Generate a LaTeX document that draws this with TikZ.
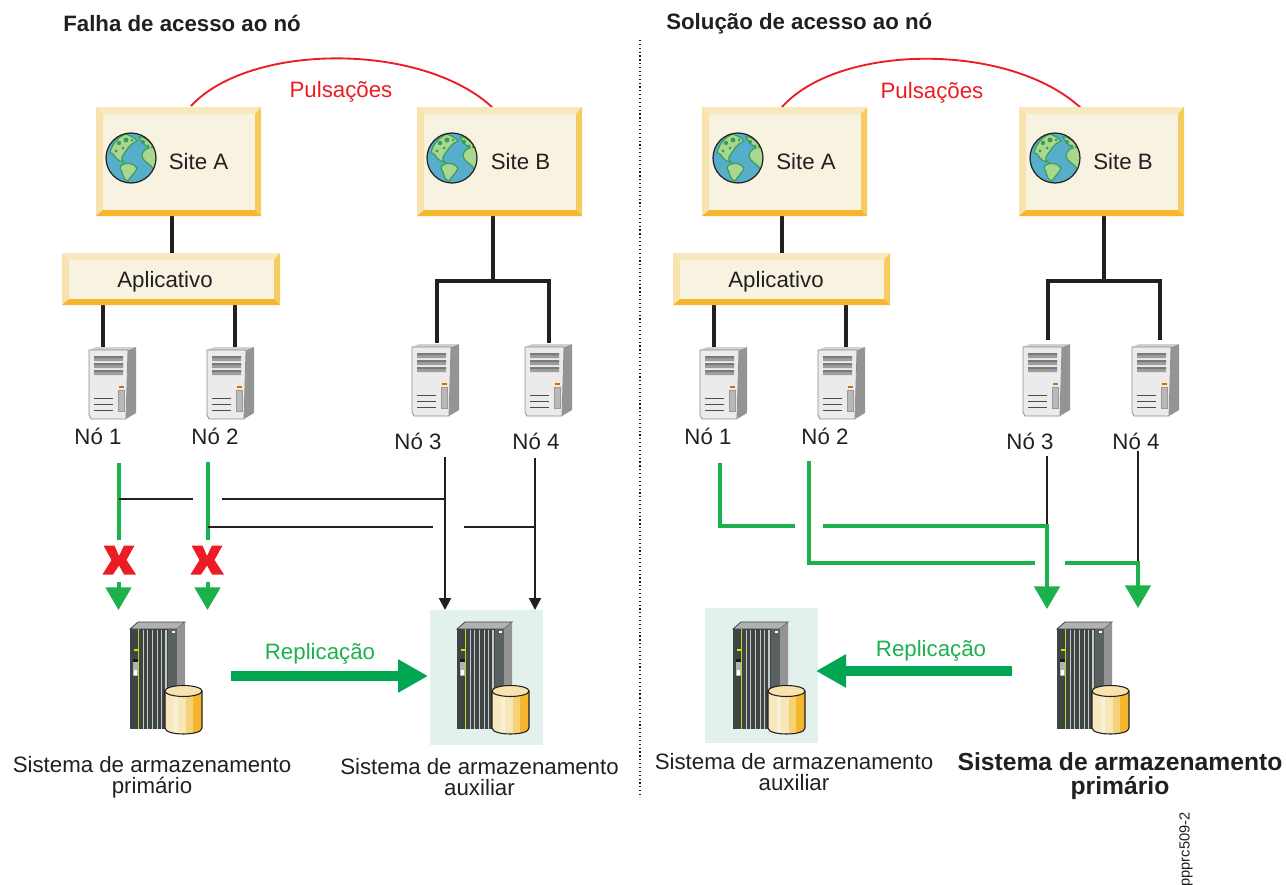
\documentclass[tikz,border=0pt]{standalone}
\usepackage{fontspec}
\setmainfont{Liberation Sans}
\usetikzlibrary{calc,arrows.meta}
\definecolor{ink}{HTML}{231F20}
\definecolor{gline}{HTML}{1BB14C}
\definecolor{gbig}{HTML}{00A651}
\definecolor{redx}{HTML}{ED1C24}
\definecolor{bxface}{HTML}{F8F3E1}
\definecolor{bxtop}{HTML}{F7E8BE}
\definecolor{bxleft}{HTML}{F8E3AE}
\definecolor{bxright}{HTML}{F6CB5F}
\definecolor{bxbot}{HTML}{F5B52C}
\definecolor{hilite}{HTML}{E3F1EC}
\definecolor{ocean}{HTML}{56AECB}
\definecolor{land}{HTML}{A9D78F}
\definecolor{landdk}{HTML}{3C9C5C}
\definecolor{rackdk}{HTML}{3F4444}
\definecolor{rackmd}{HTML}{596060}
\definecolor{rackln}{HTML}{C4CAC8}
\tikzset{
  txt/.style={inner sep=0pt,font=\fontsize{16.7}{20}\selectfont,text=ink,align=center},
  bold/.style={txt,font=\fontsize{16.7}{20}\selectfont\bfseries},
  boldbig/.style={txt,font=\fontsize{18.5}{22}\selectfont\bfseries},
  boxnode/.style={inner sep=0pt,outer sep=0pt,fill=bxface},
  blk/.style={draw=ink,line width=2.8pt},
  thinblk/.style={draw=ink,line width=1.5pt},
  thinarr/.style={thinblk,-{Triangle[length=9pt,width=9pt]}},
  grn/.style={draw=gline,line width=3pt},
  grnarr/.style={grn,-{Triangle[length=17pt,width=19pt]}},
  bigarr/.style={draw=gbig,line width=8.2pt,-{Triangle[length=22.5pt,width=23.5pt]}},
  pics/server/.style={code={
    \fill[black!42] (39,3)--(47,0)--(47,66)--(37,72)--cycle;
    \fill[black!18] (0,3)--(7,0)--(47,0)--(39,3)--cycle;
    \draw[black!45,line width=.6pt,fill=black!8] (0,3)--(39,3)--(37,72)--(2,72)--(0,68)--cycle;
    \fill[black!38] (5,9) rectangle (34,14) (5,16) rectangle (34,21) (5,23) rectangle (34,28);
    \fill[black!52] (5,9) rectangle (34,11) (5,16) rectangle (34,18) (5,23) rectangle (34,25);
    \fill[orange!85!black] (30,39) rectangle (34.5,41);
    \draw[black!40,fill=black!28,line width=.5pt] (29.5,43) rectangle (35,64);
    \draw[black!70,line width=.7pt] (5,51)--(24,51) (5,57)--(24,57) (5,63)--(24,63);
  }},
  pics/storage/.style={code={
    \fill[black!30,draw=black!75,line width=.6pt] (0,7)--(8,0)--(55,0)--(47,7)--cycle;
    \fill[black!42] (47,7)--(55,0)--(55,100)--(47,107)--cycle;
    \fill[rackdk] (0,7) rectangle (47,107);
    \fill[rackmd] (38,7) rectangle (47,107);
    \draw[yellow!70!green,line width=.8pt] (8.6,7)--(8.6,107);
    \foreach \q in {13.3,17.7,22.7,27.3,31.7,36}{\draw[rackln,line width=.9pt] (\q,8)--(\q,107);}
    \fill[yellow!80!green] (3.5,27) rectangle (7.5,29);
    \fill[black!90] (3,37) rectangle (7.5,40);
    \fill[black!30] (2.5,40) rectangle (7.5,54);
    \fill[white] (3.5,48) rectangle (6.5,53);
    \fill[white] (42,9) rectangle (45,11);
    \begin{scope}
      \clip (35,69) -- (35,106) .. controls (35,114) and (72,114) .. (72,106) -- (72,69) -- cycle;
      \fill[bxtop] (35,60) rectangle (44,115);
      \fill[bxface!70!bxtop] (44,60) rectangle (48,115);
      \fill[bxtop!60!bxleft] (48,60) rectangle (56,115);
      \fill[bxright!75!bxtop] (56,60) rectangle (63,115);
      \fill[bxbot] (63,60) rectangle (73,115);
    \end{scope}
    \draw[ink,line width=.8pt] (35,69) -- (35,106) .. controls (35,114) and (72,114) .. (72,106) -- (72,69);
    \draw[ink,line width=.8pt,fill=bxleft] (53.5,69) ellipse[x radius=18.5,y radius=5.5];
  }},
  pics/globe/.style={code={
    \begin{scope}
      \clip (0,0) circle[radius=25];
      \fill[ocean] (0,0) circle[radius=25];
      \fill[land,draw=landdk,line width=.9pt]
        (-21,-5) .. controls (-19,-14) and (-13,-21) .. (-5,-24) .. controls (0,-22) and (4,-20) .. (6,-17)
        .. controls (2,-15) and (-1,-13) .. (-3,-10) .. controls (-5,-6) and (-8,-4) .. (-9,-1)
        .. controls (-10,1) and (-9,3) .. (-7,4) .. controls (-11,4) and (-15,1) .. (-17,-3) .. controls (-18,-5) and (-20,-5) .. (-21,-5) -- cycle
        (-9,7) .. controls (-5,4) and (3,5) .. (6,10) .. controls (5,14) and (0,18) .. (-3,23)
        .. controls (-7,22) and (-8,18) .. (-9,14) .. controls (-11,12) and (-12,9) .. (-9,7) -- cycle
        (8,-21) .. controls (14,-22) and (22,-14) .. (26,-6) -- (26,12) .. controls (23,13) and (21,10) .. (20,8)
        .. controls (17,5) and (12,3) .. (11,-2) .. controls (11,-6) and (14,-9) .. (18,-10) .. controls (14,-13) and (10,-16) .. (8,-21) -- cycle;
      \fill[landdk] (-12,-15) circle[radius=2.2] (-5,-18) circle[radius=2.5] (-15,-7) circle[radius=1.6]
        (-8,-10) circle[radius=1.5] (12,-16) circle[radius=2] (17,-12) circle[radius=1.6] (21,-11) circle[radius=1.4] (1,-18) circle[radius=1.5];
    \end{scope}
    \draw[ink,line width=.9pt] (0,0) circle[radius=25];
  }},
}
% bevelled box: name, left, top, right, bottom
\newcommand{\bevelbox}[5]{%
  \node[boxnode,minimum width={(#4-#2)*.75pt},minimum height={(#5-#3)*.75pt}] (#1) at ({(#2+#4)/2},{(#3+#5)/2}) {};
  \fill[bxtop] (#2,#3)--(#4,#3)--(#4-6,#3+7)--(#2+7,#3+7)--cycle;
  \fill[bxleft] (#2,#3)--(#2+7,#3+7)--(#2+7,#5-6)--(#2,#5)--cycle;
  \fill[bxright] (#4,#3)--(#4,#5)--(#4-6,#5-6)--(#4-6,#3+7)--cycle;
  \fill[bxbot] (#2,#5)--(#4,#5)--(#4-6,#5-6)--(#2+7,#5-6)--cycle;
}
\newcommand{\redcross}[2]{%
  \fill[redx,shift={(#1,#2)}] (-15.5,-14.5)--(-4.5,-14.5)--(0,-4)--(5,-14.5)--(15.5,-14.5)--(7.5,0)--(17,14.5)--(5,14.5)--(0,5.5)--(-6,14.5)--(-16.5,14.5)--(-7.5,0)--cycle;
}
\begin{document}
\begin{tikzpicture}[x=.75pt,y=-.75pt]
\useasboundingbox (0,0) rectangle (1286,885);
% titles
\node[bold,anchor=west] (titleL) at (63,23) {Falha de acesso ao nó};
\node[bold,anchor=west] (titleR) at (666,23.8) {Solução de acesso ao nó};
% divider
\coordinate (divT) at (640,40); \coordinate (divB) at (640,795);
\draw[ink,line width=.9pt,dotted] (divT)--(divB);
% heartbeat arcs
\coordinate (hbL1) at (191,106); \coordinate (hbL2) at (494,109);
\coordinate (hbR1) at (782,107); \coordinate (hbR2) at (1084,111);
\draw[redx,line width=1.4pt] (hbL1) .. controls (250,42) and (425,42) .. (hbL2);
\draw[redx,line width=1.4pt] (hbR1) .. controls (840,42) and (1015,42) .. (hbR2);
\node[txt,text=redx] (pulsL) at (341,91.5) {Pulsações};
\node[txt,text=redx] (pulsR) at (932,92.5) {Pulsações};
% highlights
\fill[hilite] (430,610) rectangle (543,745);
\fill[hilite] (705,608) rectangle (818,743);
% LEFT black connectors above boxes
\coordinate (a1) at (172,216); \coordinate (a2) at (172,253);
\coordinate (a3) at (103,305); \coordinate (a4) at (103,347);
\coordinate (a5) at (235,305); \coordinate (a6) at (235,347);
\coordinate (b1) at (493,216); \coordinate (b2) at (493,281);
\coordinate (b3) at (437,343); \coordinate (b4) at (549,343);
\draw[blk] (a1)--(a2);
\draw[blk] (a3)--(a4);
\draw[blk] (a5)--(a6);
\draw[blk] (b1)--(b2);
\draw[blk,line join=miter] (b3)--(b3|-b2)--(b4|-b2)--(b4);
% RIGHT
\coordinate (c1) at (782,216); \coordinate (c2) at (782,253);
\coordinate (c3) at (714,305); \coordinate (c4) at (714,347);
\coordinate (c5) at (846,305); \coordinate (c6) at (846,347);
\coordinate (d1) at (1104,216); \coordinate (d2) at (1104,281);
\coordinate (d3) at (1048,340); \coordinate (d4) at (1160,340);
\draw[blk] (c1)--(c2);
\draw[blk] (c3)--(c4);
\draw[blk] (c5)--(c6);
\draw[blk] (d1)--(d2);
\draw[blk,line join=miter] (d3)--(d3|-d2)--(d4|-d2)--(d4);
% boxes
\bevelbox{siteAL}{96}{107}{261}{216}
\bevelbox{siteBL}{417}{107}{582}{216}
\bevelbox{appL}{62}{253}{280}{305}
\bevelbox{siteAR}{702}{107}{867}{216}
\bevelbox{siteBR}{1019}{107}{1184}{216}
\bevelbox{appR}{673}{253}{890}{305}
\pic at (131,158) {globe};
\pic at (452,158) {globe};
\pic at (738,158) {globe};
\pic at (1055,158) {globe};
\node[txt] (tAL) at (198.5,161.5) {Site A};
\node[txt] (tBL) at (520.5,161.5) {Site B};
\node[txt] (tAR) at (806,161.5) {Site A};
\node[txt] (tBR) at (1123,161.5) {Site B};
\node[txt] (tAppL) at (165,282) {Aplicativo};
\node[txt] (tAppR) at (776,282) {Aplicativo};
% servers
\pic at (89,347) {server};
\pic at (207,347) {server};
\pic at (412,344) {server};
\pic at (525,344) {server};
\pic at (700,347) {server};
\pic at (818,347) {server};
\pic at (1023,344) {server};
\pic at (1132,344) {server};
\node[txt] (n1L) at (98,436) {Nó 1};
\node[txt] (n2L) at (215,436) {Nó 2};
\node[txt] (n3L) at (418,441) {Nó 3};
\node[txt] (n4L) at (536,441) {Nó 4};
\node[txt] (n1R) at (708,436) {Nó 1};
\node[txt] (n2R) at (825,436) {Nó 2};
\node[txt] (n3R) at (1030,441) {Nó 3};
\node[txt] (n4R) at (1136,441) {Nó 4};
% storage
\pic at (130,622) {storage};
\pic at (457,622) {storage};
\pic at (733,622) {storage};
\pic at (1057,622) {storage};
% LEFT lower connectors
\coordinate (e1) at (118.5,463); \coordinate (e2) at (118.5,540);
\coordinate (e3) at (118.5,582); \coordinate (e4) at (118.5,610);
\coordinate (f1) at (207.5,462); \coordinate (f2) at (207.5,540);
\coordinate (f3) at (207.5,582); \coordinate (f4) at (207.5,610);
\draw[grn] (e1)--(e2);
\draw[grn] (f1)--(f2);
\draw[grnarr] (e3)--(e4);
\draw[grnarr] (f3)--(f4);
\coordinate (g1) at (445,457); \coordinate (g2) at (445,610);
\coordinate (g3) at (535,458); \coordinate (g4) at (535,610);
\draw[thinarr] (g1)--(g2);
\draw[thinarr] (g3)--(g4);
\coordinate (h1) at (118.5,499); \coordinate (h2) at (193,499); \coordinate (h3) at (222,499); \coordinate (h4) at (445,499);
\draw[thinblk] (h1)--(h2);
\draw[thinblk] (h3)--(h4);
\coordinate (i1) at (207.5,527); \coordinate (i2) at (433,527); \coordinate (i3) at (464,527); \coordinate (i4) at (535,527);
\draw[thinblk] (i1)--(i2);
\draw[thinblk] (i3)--(i4);
\redcross{119}{560}
\redcross{207}{560}
\coordinate (r1) at (231,676); \coordinate (r2) at (428,676);
\draw[bigarr] (r1)--(r2);
\node[txt,text=gline] (repL) at (320,653.5) {Replicação};
\node[txt] (capPriL) at (152,777.5) {Sistema de armazenamento\\[-4.5pt]primário};
\node[txt] (capAuxL) at (479.5,777) {Sistema de armazenamento\\[-4.5pt]auxiliar};
% RIGHT lower connectors
\coordinate (j1) at (1047,456); \coordinate (j2) at (1047,525.5);
\coordinate (j3) at (1138,451); \coordinate (j4) at (1138,563);
\draw[thinblk] (j1)--(j2);
\draw[thinblk] (j3)--(j4);
\coordinate (k1) at (720,463); \coordinate (k2) at (720,526); \coordinate (k3) at (795,526);
\draw[grn,line join=miter] (k1)--(k2)--(k3);
\coordinate (k4) at (823,525.5); \coordinate (k5) at (1047,609);
\draw[grnarr] (k4)--(k4-|k5)--(k5);
\coordinate (l1) at (809,461); \coordinate (l2) at (809,563); \coordinate (l3) at (1035,563);
\draw[grn,line join=miter] (l1)--(l2)--(l3);
\coordinate (l4) at (1065,563); \coordinate (l5) at (1138,608);
\draw[grnarr] (l4)--(l4-|l5)--(l5);
\coordinate (s1) at (1012,671); \coordinate (s2) at (816,671);
\draw[bigarr] (s1)--(s2);
\node[txt,text=gline] (repR) at (931,650.5) {Replicação};
\node[txt] (capAuxR) at (794,772) {Sistema de armazenamento\\[-4.5pt]auxiliar};
\node[boldbig] (capPriR) at (1120,776) {Sistema de armazenamento\\[-4pt]primário};
% figure id
\node[txt,rotate=90,anchor=east,font=\fontsize{11}{13}\selectfont] (figid) at (1186,812) {ppprc509-2};
\end{tikzpicture}
\end{document}
